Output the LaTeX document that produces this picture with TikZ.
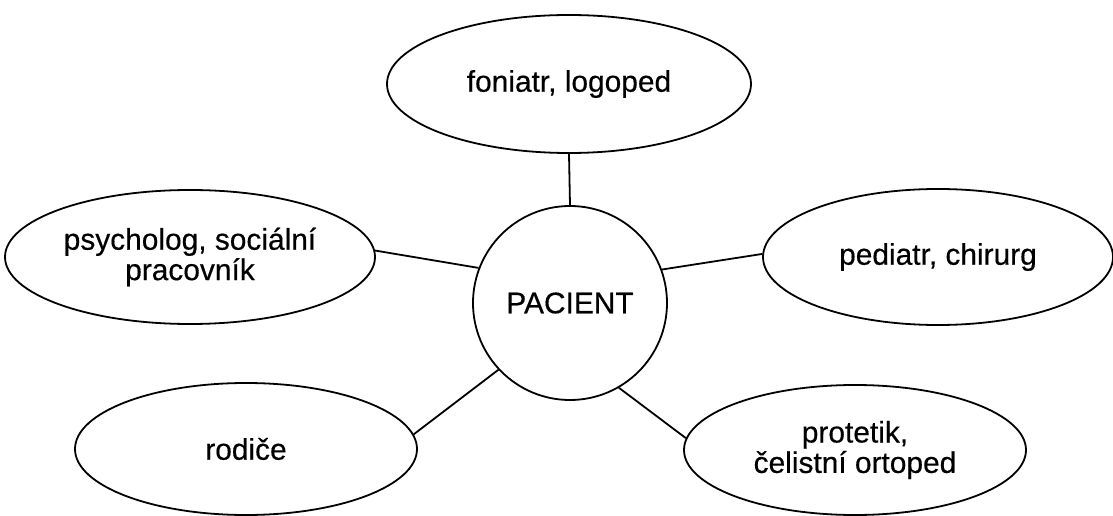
\documentclass[tikz,border=0pt]{standalone}
\usepackage{fontspec}
\setmainfont{Liberation Sans}
\newfontfamily\lblfont{Liberation Sans}[FakeBold=0.4]
\usetikzlibrary{shapes.geometric}
\begin{document}
\begin{tikzpicture}[x=1bp,y=-1bp,
  every node/.style={font=\lblfont\fontsize{30}{30.5}\selectfont, align=center, inner sep=0pt},
  role/.style={ellipse, draw, line width=1.8bp},
  hub/.style={circle, draw, line width=1.8bp, minimum size=194bp},
  link/.style={line width=1.8bp}]
\useasboundingbox (0,0) rectangle (1113,516);
% central person
\node[hub] (pac) at (570,303) {PACIENT};
% surrounding specialists
\node[role, minimum width=364bp, minimum height=138bp] (fon) at (569,84) {foniatr, logoped};
\node[role, minimum width=370bp, minimum height=134bp] (psy) at (190,257) {psycholog, sociální\\pracovník};
\node[role, minimum width=350bp, minimum height=136bp] (ped) at (938,257) {pediatr, chirurg};
\node[role, minimum width=342bp, minimum height=132bp] (rod) at (246,449) {rodiče};
\node[role, minimum width=342bp, minimum height=130bp] (pro) at (855,450) {protetik,\\čelistní ortoped};
% spokes
\draw[link] (pac.90) -- (fon.270);
\draw[link] (pac.159) -- (psy.2);
\draw[link] (pac.20) -- (ped.179);
\draw[link] (pac.223) -- (rod.5);
\draw[link] (pac.300) -- (pro.176);
\end{tikzpicture}
\end{document}
